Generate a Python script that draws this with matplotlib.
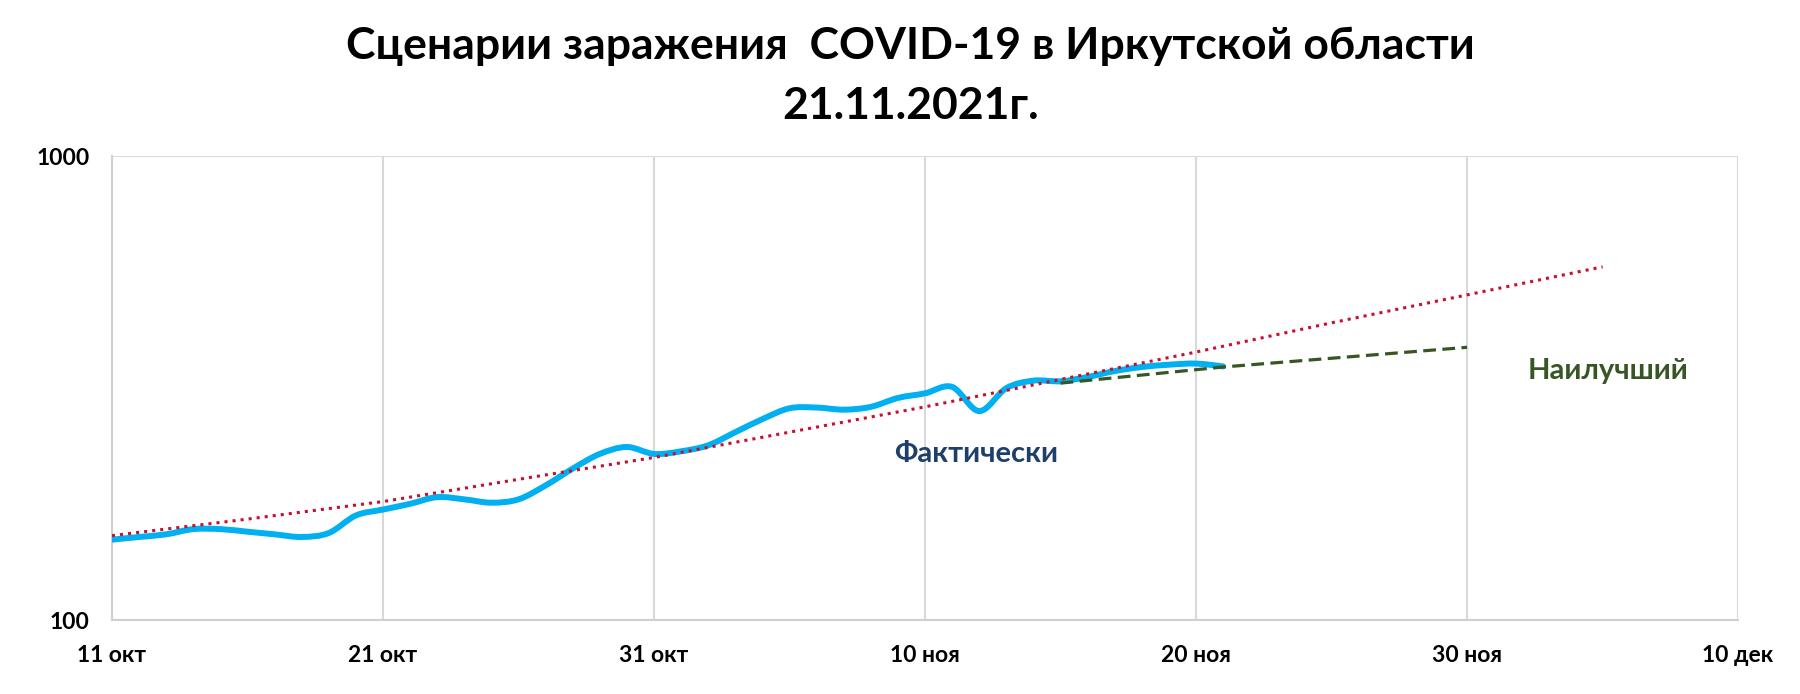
import datetime as dt

import matplotlib
matplotlib.use('Agg')
import matplotlib.pyplot as plt
import matplotlib.dates as mdates
from matplotlib.path import Path
from matplotlib.patches import PathPatch
from matplotlib.ticker import FixedLocator, NullLocator
import numpy as np

plt.rcParams['font.family'] = ['Lato', 'DejaVu Sans']

# actual daily cases from 11 Oct 2021
start = dt.date(2021, 10, 11)
actual_values = [149, 151, 153, 157, 157, 155, 153, 151, 154, 168,
                 173, 178, 184, 182, 179, 182, 195, 212, 228, 236,
                 228, 231, 238, 254, 271, 286, 287, 284, 288, 301,
                 308, 318, 282, 316, 328, 327, 334, 344, 351, 355,
                 357, 352]
actual_dates = [start + dt.timedelta(days=i) for i in range(len(actual_values))]

# red dotted trend
trend_dates = [dt.date(2021, 10, 11), dt.date(2021, 10, 16), dt.date(2021, 10, 21),
               dt.date(2021, 10, 26), dt.date(2021, 10, 31), dt.date(2021, 11, 5),
               dt.date(2021, 11, 10), dt.date(2021, 11, 15), dt.date(2021, 11, 20),
               dt.date(2021, 11, 25), dt.date(2021, 11, 30), dt.date(2021, 12, 5)]
trend_values = [152, 165, 180, 201, 224, 254, 288, 330, 378, 437, 502, 577]

# best scenario (green dashed)
best_dates = [dt.date(2021, 11, 15), dt.date(2021, 11, 21), dt.date(2021, 11, 30)]
best_values = [324, 351, 387]

tick_dates = [dt.date(2021, 10, 11), dt.date(2021, 10, 21), dt.date(2021, 10, 31),
              dt.date(2021, 11, 10), dt.date(2021, 11, 20), dt.date(2021, 11, 30),
              dt.date(2021, 12, 10)]
tick_labels = ['11 окт', '21 окт', '31 окт', '10 ноя', '20 ноя', '30 ноя', '10 дек']


def smooth_path(xs, ys):
    # excel-like smoothed line: bezier segments through the points (log y)
    x = np.asarray(xs, dtype=float)
    ly = np.log10(ys)
    n = len(x)
    verts = [(x[0], ys[0])]
    codes = [Path.MOVETO]
    for i in range(n - 1):
        i0 = max(i - 1, 0)
        i3 = min(i + 2, n - 1)
        c1x = x[i] + (x[i + 1] - x[i0]) / 6
        c1y = ly[i] + (ly[i + 1] - ly[i0]) / 6
        c2x = x[i + 1] - (x[i3] - x[i]) / 6
        c2y = ly[i + 1] - (ly[i3] - ly[i]) / 6
        verts += [(c1x, 10 ** c1y), (c2x, 10 ** c2y), (x[i + 1], ys[i + 1])]
        codes += [Path.CURVE4] * 3
    return Path(verts, codes)


fig = plt.figure(figsize=(18, 6.94), dpi=100)
ax = fig.add_axes([0.0622, 0.1066, 0.9034, 0.6686])

ax.set_yscale('log')
ax.set_ylim(100, 1000)
ax.set_xlim(mdates.date2num(tick_dates[0]), mdates.date2num(tick_dates[-1]))

blue = PathPatch(smooth_path(mdates.date2num(actual_dates), actual_values),
                 fill=False, edgecolor='#00B0F0', lw=4.3, capstyle='round',
                 joinstyle='round', zorder=3)
ax.add_patch(blue)
ax.plot(best_dates, best_values, color='#375623', lw=2.3, dashes=(4, 2), zorder=4)
ax.plot(trend_dates, trend_values, color='#C8102E', lw=2.2, linestyle=':', zorder=5)

ax.yaxis.set_major_locator(FixedLocator([100, 1000]))
ax.yaxis.set_minor_locator(NullLocator())
ax.set_yticklabels(['100', '1000'])
ax.set_xticks([mdates.date2num(d) for d in tick_dates])
ax.set_xticklabels(tick_labels)

ax.grid(True, axis='both', color='#D9D9D9', lw=1.5)
ax.set_axisbelow(True)
for s in ['top', 'right']:
    ax.spines[s].set_visible(False)
for s in ['left', 'bottom']:
    ax.spines[s].set_color('#D0D0D0')
    ax.spines[s].set_linewidth(1.5)

ax.tick_params(axis='both', length=0, labelsize=16.5)
ax.tick_params(axis='x', pad=18)
ax.tick_params(axis='y', pad=16)
for lab in ax.get_xticklabels() + ax.get_yticklabels():
    lab.set_fontweight('bold')

ax.text(mdates.date2num(dt.date(2021, 11, 11)) + 0.9, 228, 'Фактически',
        color='#1F3F6B', fontsize=21, fontweight='bold', ha='center', va='center')
ax.text(mdates.date2num(dt.date(2021, 12, 5)) + 0.2, 344, 'Наилучший',
        color='#375623', fontsize=21, fontweight='bold', ha='center', va='center')

fig.text(0.506, 0.934, 'Сценарии заражения  COVID-19 в Иркутской области',
         fontsize=32, fontweight='bold', ha='center', va='center')
fig.text(0.506, 0.847, '21.11.2021г.', fontsize=32, fontweight='bold',
         ha='center', va='center')

fig.savefig('out.png', dpi=100)
